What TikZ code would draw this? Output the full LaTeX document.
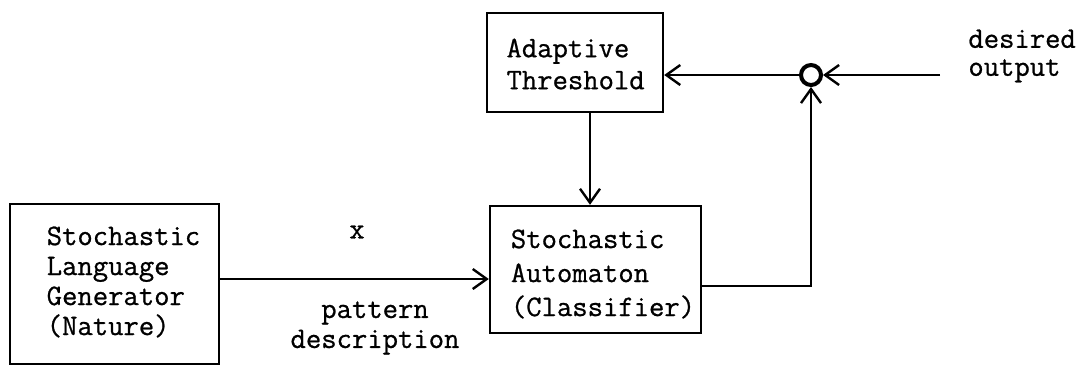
\documentclass[tikz,border=0pt]{standalone}
\usepackage{fontspec}
% slightly heavier typewriter face
\setmonofont{Latin Modern Mono}[FakeBold=0.8]
\usetikzlibrary{arrows.meta}
\begin{document}
\begin{tikzpicture}[x=0.5pt,y=-0.5pt,
  box/.style={draw, line width=1.2pt, inner sep=0pt},
  txt/.style={font=\ttfamily\fontsize{14.9}{16}\selectfont, align=left, inner sep=0pt},
  arr/.style={line width=1.2pt, -{Straight Barb[length=7pt,width=10pt,line width=1.2pt]}},
  sumpt/.style={draw, circle, line width=2pt, minimum size=10pt, inner sep=0pt}]
\useasboundingbox (0,0) rectangle (1085,366);

% blocks
\node[box, minimum width=104.5pt, minimum height=80pt] (gen) at (114.5,284) {};
\node[box, minimum width=105.5pt, minimum height=63.5pt] (auto) at (595.5,269.5) {};
\node[box, minimum width=88pt, minimum height=49.5pt] (thr) at (575,62.5) {};
\node[sumpt] (sum) at (811,75) {};

% block texts
\node[txt, font=\ttfamily\fontsize{14.9}{15}\selectfont] (gentxt) at (123.5,282)
  {Stochastic\\Language\\Generator\\(Nature)};
\node[txt, font=\ttfamily\fontsize{14.9}{17}\selectfont] (autotxt) at (603,274)
  {Stochastic\\Automaton\\(Classifier)};
\node[txt] (thrtxt) at (575.6,64) {Adaptive\\Threshold};

% free labels
\node[txt] (xlab) at (357,232) {x};
\node[txt, align=center, font=\ttfamily\fontsize{14.9}{15}\selectfont] (patlab) at (375,328)
  {pattern\\description};
\node[txt, anchor=west, font=\ttfamily\fontsize{14.9}{14}\selectfont] (deslab) at (968,56)
  {desired\\output};

% connectors
\coordinate (des) at (940,75);
\draw[arr] (gen.east |- 0,279) -- (auto.west |- 0,279);
\draw[arr] (thr.south -| 590,0) -- (auto.north -| 590,0);
\draw[arr] (auto.east |- 0,286) -| (sum.south);
\draw[arr] (sum.west) -- (thr.east |- sum.west);
\draw[arr] (des) -- (sum.east);
\end{tikzpicture}
\end{document}
